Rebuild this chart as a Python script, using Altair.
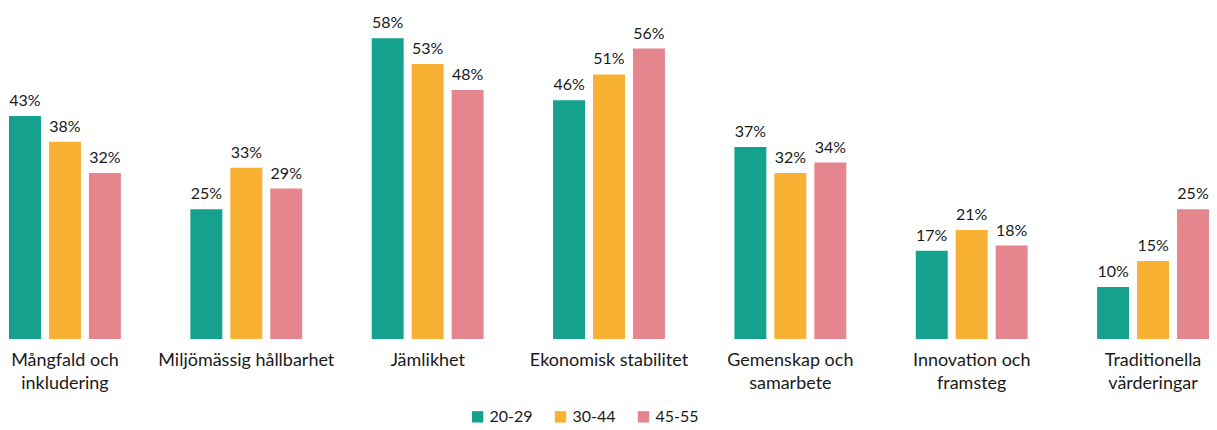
import altair as alt
import pandas as pd

categories = ["Mångfald och\ninkludering", "Miljömässig hållbarhet", "Jämlikhet",
              "Ekonomisk stabilitet", "Gemenskap och\nsamarbete", "Innovation och\nframsteg",
              "Traditionella\nvärderingar"]
groups = ["20-29", "30-44", "45-55"]
v_20_29 = [0.43, 0.25, 0.58, 0.46, 0.37, 0.17, 0.10]
v_30_44 = [0.38, 0.33, 0.53, 0.51, 0.32, 0.21, 0.15]
v_45_55 = [0.32, 0.29, 0.48, 0.56, 0.34, 0.18, 0.25]
colors = ["#14A28E", "#F8B133", "#E5868F"]

rows = []
for g, vals in zip(groups, [v_20_29, v_30_44, v_45_55]):
    for c, v in zip(categories, vals):
        rows.append({"cat": c, "grp": g, "val": v})
df = pd.DataFrame(rows)

FONT = "Lato"

x = alt.X("cat:N", sort=categories, title=None,
          scale=alt.Scale(paddingInner=0.383, paddingOuter=0),
          axis=alt.Axis(labelAngle=0, labelFont=FONT, labelFontSize=18, labelColor="#1a1a1a",
                        labelPadding=13, domain=False, ticks=False, labelLimit=300,
                        labelExpr="split(datum.label, '\\n')", labelLineHeight=23))
xo = alt.XOffset("grp:N", sort=groups, scale=alt.Scale(paddingInner=0.2, paddingOuter=0))
y = alt.Y("val:Q", scale=alt.Scale(domain=[0, 0.58], nice=False), axis=None)
color = alt.Color("grp:N", sort=groups, scale=alt.Scale(domain=groups, range=colors),
                  legend=alt.Legend(title=None, orient="none", direction="horizontal",
                                    legendX=461, legendY=371, symbolType="square",
                                    symbolSize=130, symbolStrokeWidth=0, labelFont=FONT,
                                    labelFontSize=16, labelColor="#1a1a1a", columnPadding=19,
                                    labelOffset=4))

bars = alt.Chart(df).mark_bar().encode(x=x, xOffset=xo, y=y, color=color)
text = alt.Chart(df).mark_text(baseline="bottom", dy=-7, font=FONT, fontSize=16,
                               color="#1a1a1a").encode(
    x=x, xOffset=xo, y=y, text=alt.Text("val:Q", format=".0%"))

chart = alt.layer(bars, text).properties(
    width=1201, height=301,
    padding={"left": 1, "top": 30, "right": 0, "bottom": 88},
    autosize=alt.AutoSizeParams(type="none"),
).configure(background="white").configure_view(stroke=None)

chart.save("out.html", embed_options={"renderer": "svg", "actions": False})
